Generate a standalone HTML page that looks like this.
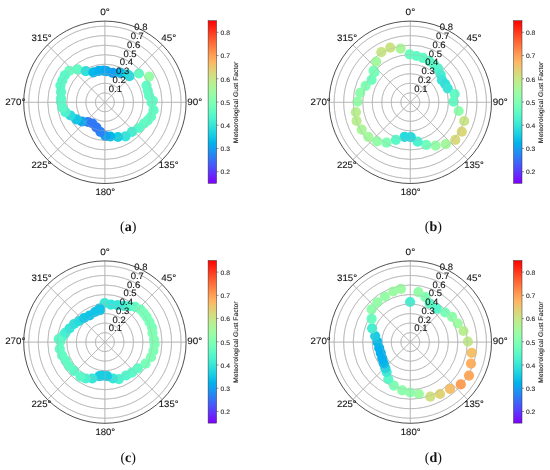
<!DOCTYPE html><html><head><meta charset="utf-8"><style>html,body{margin:0;padding:0;background:#fff;}svg{display:block;filter:blur(0.3px);}text{text-rendering:geometricPrecision;}</style></head><body><svg width="550" height="470" viewBox="0 0 550 470"><defs><linearGradient id="rb" x1="0" y1="0" x2="0" y2="1"><stop offset="0.000" stop-color="#ff0000"/><stop offset="0.025" stop-color="#ff140a"/><stop offset="0.050" stop-color="#ff2814"/><stop offset="0.075" stop-color="#ff3c1e"/><stop offset="0.100" stop-color="#ff4f28"/><stop offset="0.125" stop-color="#ff6232"/><stop offset="0.150" stop-color="#ff743c"/><stop offset="0.175" stop-color="#ff8545"/><stop offset="0.200" stop-color="#ff964f"/><stop offset="0.225" stop-color="#ffa658"/><stop offset="0.250" stop-color="#ffb462"/><stop offset="0.275" stop-color="#f2c26b"/><stop offset="0.300" stop-color="#e5ce74"/><stop offset="0.325" stop-color="#d9d97d"/><stop offset="0.350" stop-color="#cce385"/><stop offset="0.375" stop-color="#bfec8e"/><stop offset="0.400" stop-color="#b2f396"/><stop offset="0.425" stop-color="#a6f89e"/><stop offset="0.450" stop-color="#99fca6"/><stop offset="0.475" stop-color="#8cfead"/><stop offset="0.500" stop-color="#80ffb4"/><stop offset="0.525" stop-color="#73febb"/><stop offset="0.550" stop-color="#66fcc2"/><stop offset="0.575" stop-color="#59f8c8"/><stop offset="0.600" stop-color="#4df3ce"/><stop offset="0.625" stop-color="#40ecd4"/><stop offset="0.650" stop-color="#33e3d9"/><stop offset="0.675" stop-color="#26d9de"/><stop offset="0.700" stop-color="#1acee3"/><stop offset="0.725" stop-color="#0dc2e8"/><stop offset="0.750" stop-color="#00b4ec"/><stop offset="0.775" stop-color="#0da6ef"/><stop offset="0.800" stop-color="#1a96f3"/><stop offset="0.825" stop-color="#2685f5"/><stop offset="0.850" stop-color="#3374f8"/><stop offset="0.875" stop-color="#4062fa"/><stop offset="0.900" stop-color="#4d4ffc"/><stop offset="0.925" stop-color="#593cfd"/><stop offset="0.950" stop-color="#6628fe"/><stop offset="0.975" stop-color="#7314ff"/><stop offset="1.000" stop-color="#8000ff"/></linearGradient><g id="stat"><g fill="none" stroke="#b0b0b0" stroke-width="0.75"><circle cx="104.9" cy="102.3" r="9.52" /><circle cx="104.9" cy="102.3" r="19.04" /><circle cx="104.9" cy="102.3" r="28.56" /><circle cx="104.9" cy="102.3" r="38.08" /><circle cx="104.9" cy="102.3" r="47.60" /><circle cx="104.9" cy="102.3" r="57.12" /><circle cx="104.9" cy="102.3" r="66.64" /><circle cx="104.9" cy="102.3" r="76.16" /><line x1="104.9" y1="102.3" x2="104.90" y2="21.10" /><line x1="104.9" y1="102.3" x2="162.32" y2="44.88" /><line x1="104.9" y1="102.3" x2="186.10" y2="102.30" /><line x1="104.9" y1="102.3" x2="162.32" y2="159.72" /><line x1="104.9" y1="102.3" x2="104.90" y2="183.50" /><line x1="104.9" y1="102.3" x2="47.48" y2="159.72" /><line x1="104.9" y1="102.3" x2="23.70" y2="102.30" /><line x1="104.9" y1="102.3" x2="47.48" y2="44.88" /></g></g><g id="frame"><circle cx="104.9" cy="102.3" r="81.2" fill="none" stroke="#222" stroke-width="0.8"/><g font-family='"Liberation Sans", sans-serif' font-size="9.4" fill="#111" stroke="#111" stroke-width="0.1" text-anchor="middle"><text x="105.0" y="14.8" textLength="9.6" lengthAdjust="spacingAndGlyphs">0°</text><text x="168.7" y="41.1" textLength="15.0" lengthAdjust="spacingAndGlyphs">45°</text><text x="194.75" y="104.7" textLength="14.9" lengthAdjust="spacingAndGlyphs">90°</text><text x="168.65" y="167.7" textLength="19.7" lengthAdjust="spacingAndGlyphs">135°</text><text x="105.3" y="194.8" textLength="19.8" lengthAdjust="spacingAndGlyphs">180°</text><text x="41.4" y="167.7" textLength="19.8" lengthAdjust="spacingAndGlyphs">225°</text><text x="15.3" y="104.7" textLength="20.2" lengthAdjust="spacingAndGlyphs">270°</text><text x="41.65" y="40.9" textLength="20.1" lengthAdjust="spacingAndGlyphs">315°</text></g><g font-family='"Liberation Sans", sans-serif' font-size="9.2" fill="#111" stroke="#111" stroke-width="0.1"><text x="108.84" y="91.70" textLength="13.2" lengthAdjust="spacingAndGlyphs">0.1</text><text x="112.49" y="82.91" textLength="13.2" lengthAdjust="spacingAndGlyphs">0.2</text><text x="116.13" y="74.11" textLength="13.2" lengthAdjust="spacingAndGlyphs">0.3</text><text x="119.77" y="65.32" textLength="13.2" lengthAdjust="spacingAndGlyphs">0.4</text><text x="123.42" y="56.52" textLength="13.2" lengthAdjust="spacingAndGlyphs">0.5</text><text x="127.06" y="47.73" textLength="13.2" lengthAdjust="spacingAndGlyphs">0.6</text><text x="130.70" y="38.93" textLength="13.2" lengthAdjust="spacingAndGlyphs">0.7</text><text x="134.35" y="30.14" textLength="13.2" lengthAdjust="spacingAndGlyphs">0.8</text></g><rect x="208.1" y="20.7" width="8.50" height="162.60" fill="url(#rb)" stroke="#333" stroke-width="0.5"/><g font-family='"Liberation Sans", sans-serif' font-size="6.5" fill="#222" stroke="#222" stroke-width="0.08"><line x1="216.6" y1="171.69" x2="218.6" y2="171.69" stroke="#333" stroke-width="0.5"/><text x="220.5" y="174.49" textLength="9.4" lengthAdjust="spacingAndGlyphs">0.2</text><line x1="216.6" y1="148.46" x2="218.6" y2="148.46" stroke="#333" stroke-width="0.5"/><text x="220.5" y="151.26" textLength="9.4" lengthAdjust="spacingAndGlyphs">0.3</text><line x1="216.6" y1="125.23" x2="218.6" y2="125.23" stroke="#333" stroke-width="0.5"/><text x="220.5" y="128.03" textLength="9.4" lengthAdjust="spacingAndGlyphs">0.4</text><line x1="216.6" y1="102.00" x2="218.6" y2="102.00" stroke="#333" stroke-width="0.5"/><text x="220.5" y="104.80" textLength="9.4" lengthAdjust="spacingAndGlyphs">0.5</text><line x1="216.6" y1="78.77" x2="218.6" y2="78.77" stroke="#333" stroke-width="0.5"/><text x="220.5" y="81.57" textLength="9.4" lengthAdjust="spacingAndGlyphs">0.6</text><line x1="216.6" y1="55.54" x2="218.6" y2="55.54" stroke="#333" stroke-width="0.5"/><text x="220.5" y="58.34" textLength="9.4" lengthAdjust="spacingAndGlyphs">0.7</text><line x1="216.6" y1="32.31" x2="218.6" y2="32.31" stroke="#333" stroke-width="0.5"/><text x="220.5" y="35.11" textLength="9.4" lengthAdjust="spacingAndGlyphs">0.8</text></g><text transform="translate(237.8 102.4) rotate(-90)" font-family='"Liberation Sans", sans-serif' font-size="6.6" fill="#222" stroke="#222" stroke-width="0.1" text-anchor="middle" textLength="81.6" lengthAdjust="spacingAndGlyphs">Meteorological Gust Factor</text></g></defs><rect width="550" height="470" fill="#fff"/><g transform="translate(0.0 0.0)"><use href="#stat"/><g><circle cx="69.3" cy="70.9" r="5.1" fill="#6afdc0"/><circle cx="77.5" cy="69.3" r="5.1" fill="#62fbc4"/><circle cx="85.8" cy="71.2" r="5.1" fill="#2fe1db"/><circle cx="93.5" cy="72.3" r="5.1" fill="#04b8ea"/><circle cx="98.8" cy="70.8" r="5.1" fill="#04b0ed"/><circle cx="103.5" cy="70.7" r="5.1" fill="#04b0ed"/><circle cx="106.5" cy="71.2" r="5.1" fill="#0ba8ef"/><circle cx="112.8" cy="72.9" r="5.1" fill="#129ff1"/><circle cx="120.5" cy="72.8" r="5.1" fill="#04b8ea"/><circle cx="127.5" cy="74.5" r="5.1" fill="#21d5e1"/><circle cx="129.4" cy="76.2" r="5.1" fill="#28dbde"/><circle cx="138.9" cy="73.5" r="5.1" fill="#62fbc4"/><circle cx="149.1" cy="76.6" r="5.1" fill="#95fda8"/><circle cx="146.5" cy="85.5" r="5.1" fill="#62fbc4"/><circle cx="147.8" cy="90.6" r="5.1" fill="#62fbc4"/><circle cx="149.1" cy="95.7" r="5.1" fill="#62fbc4"/><circle cx="152.9" cy="100.8" r="5.1" fill="#62fbc4"/><circle cx="151.6" cy="102.5" r="5.1" fill="#62fbc4"/><circle cx="153.5" cy="110.2" r="5.1" fill="#62fbc4"/><circle cx="151.0" cy="116.5" r="5.1" fill="#62fbc4"/><circle cx="147.8" cy="120.4" r="5.1" fill="#62fbc4"/><circle cx="144.0" cy="123.5" r="5.1" fill="#62fbc4"/><circle cx="138.9" cy="128.0" r="5.1" fill="#5bf9c7"/><circle cx="131.9" cy="131.8" r="5.1" fill="#45efd2"/><circle cx="125.5" cy="136.3" r="5.1" fill="#37e6d8"/><circle cx="117.9" cy="137.0" r="5.1" fill="#19cee3"/><circle cx="110.3" cy="136.5" r="5.1" fill="#04b8ea"/><circle cx="105.5" cy="136.0" r="5.1" fill="#129ff1"/><circle cx="100.5" cy="132.0" r="5.1" fill="#2883f6"/><circle cx="96.5" cy="127.5" r="5.1" fill="#2f79f7"/><circle cx="92.5" cy="123.5" r="5.1" fill="#2f79f7"/><circle cx="88.0" cy="122.0" r="5.1" fill="#2f79f7"/><circle cx="82.0" cy="121.5" r="5.1" fill="#0ba8ef"/><circle cx="76.3" cy="119.3" r="5.1" fill="#12c7e6"/><circle cx="70.5" cy="115.5" r="5.1" fill="#28dbde"/><circle cx="65.5" cy="112.1" r="5.1" fill="#4df3ce"/><circle cx="62.3" cy="107.6" r="5.1" fill="#5bf9c7"/><circle cx="61.0" cy="101.9" r="5.1" fill="#5bf9c7"/><circle cx="61.0" cy="98.3" r="5.1" fill="#5bf9c7"/><circle cx="61.0" cy="91.9" r="5.1" fill="#5bf9c7"/><circle cx="60.4" cy="85.5" r="5.1" fill="#5bf9c7"/><circle cx="62.3" cy="80.5" r="5.1" fill="#5bf9c7"/><circle cx="64.8" cy="75.4" r="5.1" fill="#5bf9c7"/></g><use href="#stat" opacity="0.5"/><use href="#frame"/></g><g transform="translate(305.4 0.0)"><use href="#stat"/><g><circle cx="75.9" cy="52.2" r="5.1" fill="#c8e688"/><circle cx="84.8" cy="47.7" r="5.1" fill="#cce385"/><circle cx="95.2" cy="48.6" r="5.1" fill="#abf69a"/><circle cx="104.3" cy="54.4" r="5.1" fill="#6afdc0"/><circle cx="111.1" cy="56.0" r="5.1" fill="#62fbc4"/><circle cx="117.5" cy="57.9" r="5.1" fill="#62fbc4"/><circle cx="123.9" cy="61.1" r="5.1" fill="#5bf9c7"/><circle cx="129.0" cy="64.9" r="5.1" fill="#5bf9c7"/><circle cx="132.8" cy="68.7" r="5.1" fill="#54f6cb"/><circle cx="135.3" cy="74.5" r="5.1" fill="#45efd2"/><circle cx="136.6" cy="80.2" r="5.1" fill="#37e6d8"/><circle cx="139.8" cy="84.0" r="5.1" fill="#2fe1db"/><circle cx="142.3" cy="88.3" r="5.1" fill="#37e6d8"/><circle cx="149.3" cy="94.0" r="5.1" fill="#62fbc4"/><circle cx="148.1" cy="101.6" r="5.1" fill="#62fbc4"/><circle cx="153.3" cy="111.0" r="5.1" fill="#8efeac"/><circle cx="158.8" cy="121.0" r="5.1" fill="#c8e688"/><circle cx="156.4" cy="131.7" r="5.1" fill="#dbd87b"/><circle cx="149.9" cy="139.8" r="5.1" fill="#d7db7e"/><circle cx="140.4" cy="144.2" r="5.1" fill="#a4f99f"/><circle cx="130.2" cy="145.6" r="5.1" fill="#95fda8"/><circle cx="120.8" cy="144.9" r="5.1" fill="#71febc"/><circle cx="112.2" cy="141.6" r="5.1" fill="#4df3ce"/><circle cx="105.4" cy="137.2" r="5.1" fill="#28dbde"/><circle cx="99.2" cy="136.9" r="5.1" fill="#28dbde"/><circle cx="90.5" cy="139.8" r="5.1" fill="#5bf9c7"/><circle cx="81.1" cy="142.7" r="5.1" fill="#80ffb4"/><circle cx="71.6" cy="141.3" r="5.1" fill="#95fda8"/><circle cx="62.9" cy="136.9" r="5.1" fill="#a4f99f"/><circle cx="56.3" cy="129.6" r="5.1" fill="#abf69a"/><circle cx="51.2" cy="120.9" r="5.1" fill="#baef91"/><circle cx="50.5" cy="112.2" r="5.1" fill="#baef91"/><circle cx="52.1" cy="101.6" r="5.1" fill="#95fda8"/><circle cx="54.8" cy="92.9" r="5.1" fill="#8efeac"/><circle cx="60.2" cy="85.8" r="5.1" fill="#80ffb4"/><circle cx="66.2" cy="79.8" r="5.1" fill="#71febc"/><circle cx="69.0" cy="72.2" r="5.1" fill="#71febc"/><circle cx="68.2" cy="70.6" r="5.1" fill="#78ffb8"/><circle cx="70.8" cy="61.7" r="5.1" fill="#a4f99f"/></g><use href="#stat" opacity="0.5"/><use href="#frame"/></g><g transform="translate(0.0 239.8)"><use href="#stat"/><g><circle cx="104.6" cy="63.2" r="5.1" fill="#3eead5"/><circle cx="110.9" cy="64.8" r="5.1" fill="#37e6d8"/><circle cx="117.5" cy="65.4" r="5.1" fill="#37e6d8"/><circle cx="124.0" cy="66.0" r="5.1" fill="#3eead5"/><circle cx="129.5" cy="66.4" r="5.1" fill="#4df3ce"/><circle cx="135.0" cy="67.0" r="5.1" fill="#62fbc4"/><circle cx="140.5" cy="69.7" r="5.1" fill="#71febc"/><circle cx="143.7" cy="73.2" r="5.1" fill="#78ffb8"/><circle cx="146.5" cy="77.0" r="5.1" fill="#78ffb8"/><circle cx="149.5" cy="82.3" r="5.1" fill="#78ffb8"/><circle cx="152.0" cy="87.7" r="5.1" fill="#78ffb8"/><circle cx="152.5" cy="93.2" r="5.1" fill="#80ffb4"/><circle cx="154.0" cy="99.7" r="5.1" fill="#80ffb4"/><circle cx="154.6" cy="104.4" r="5.1" fill="#80ffb4"/><circle cx="153.4" cy="110.9" r="5.1" fill="#80ffb4"/><circle cx="151.0" cy="117.4" r="5.1" fill="#80ffb4"/><circle cx="145.5" cy="123.9" r="5.1" fill="#78ffb8"/><circle cx="137.8" cy="128.6" r="5.1" fill="#62fbc4"/><circle cx="131.9" cy="132.8" r="5.1" fill="#5bf9c7"/><circle cx="126.0" cy="135.7" r="5.1" fill="#54f6cb"/><circle cx="118.9" cy="139.3" r="5.1" fill="#4df3ce"/><circle cx="113.0" cy="138.7" r="5.1" fill="#37e6d8"/><circle cx="107.1" cy="136.3" r="5.1" fill="#19cee3"/><circle cx="102.4" cy="135.7" r="5.1" fill="#19cee3"/><circle cx="99.4" cy="136.3" r="5.1" fill="#19cee3"/><circle cx="92.3" cy="138.7" r="5.1" fill="#37e6d8"/><circle cx="85.8" cy="138.7" r="5.1" fill="#4df3ce"/><circle cx="80.5" cy="136.9" r="5.1" fill="#5bf9c7"/><circle cx="74.0" cy="131.0" r="5.1" fill="#5bf9c7"/><circle cx="69.2" cy="126.3" r="5.1" fill="#62fbc4"/><circle cx="65.7" cy="120.9" r="5.1" fill="#62fbc4"/><circle cx="62.1" cy="115.6" r="5.1" fill="#62fbc4"/><circle cx="59.8" cy="109.1" r="5.1" fill="#62fbc4"/><circle cx="60.4" cy="101.4" r="5.1" fill="#62fbc4"/><circle cx="64.5" cy="94.3" r="5.1" fill="#4df3ce"/><circle cx="62.5" cy="96.7" r="5.1" fill="#54f6cb"/><circle cx="58.7" cy="99.3" r="5.1" fill="#5bf9c7"/><circle cx="65.5" cy="92.7" r="5.1" fill="#45efd2"/><circle cx="69.5" cy="88.7" r="5.1" fill="#37e6d8"/><circle cx="74.0" cy="84.2" r="5.1" fill="#2fe1db"/><circle cx="79.0" cy="81.2" r="5.1" fill="#28dbde"/><circle cx="84.0" cy="78.2" r="5.1" fill="#12c7e6"/><circle cx="89.5" cy="75.7" r="5.1" fill="#0fc4e7"/><circle cx="95.0" cy="72.2" r="5.1" fill="#0fc4e7"/><circle cx="99.5" cy="68.7" r="5.1" fill="#0fc4e7"/><circle cx="100.0" cy="70.3" r="5.1" fill="#0fc4e7"/></g><use href="#stat" opacity="0.5"/><use href="#frame"/></g><g transform="translate(305.4 239.8)"><use href="#stat"/><g><circle cx="66.2" cy="69.5" r="5.1" fill="#8efeac"/><circle cx="72.0" cy="62.5" r="5.1" fill="#95fda8"/><circle cx="79.6" cy="56.7" r="5.1" fill="#95fda8"/><circle cx="87.9" cy="51.7" r="5.1" fill="#9dfba3"/><circle cx="95.5" cy="49.1" r="5.1" fill="#9dfba3"/><circle cx="104.7" cy="62.2" r="5.1" fill="#45efd2"/><circle cx="113.0" cy="52.3" r="5.1" fill="#95fda8"/><circle cx="120.0" cy="57.4" r="5.1" fill="#80ffb4"/><circle cx="124.4" cy="63.7" r="5.1" fill="#5bf9c7"/><circle cx="131.4" cy="68.8" r="5.1" fill="#54f6cb"/><circle cx="139.7" cy="72.7" r="5.1" fill="#78ffb8"/><circle cx="146.7" cy="77.1" r="5.1" fill="#8efeac"/><circle cx="152.4" cy="83.7" r="5.1" fill="#9dfba3"/><circle cx="158.1" cy="91.2" r="5.1" fill="#baef91"/><circle cx="162.5" cy="101.8" r="5.1" fill="#c1ea8c"/><circle cx="166.3" cy="113.0" r="5.1" fill="#f4c069"/><circle cx="165.6" cy="123.8" r="5.1" fill="#ffb05f"/><circle cx="163.6" cy="135.8" r="5.1" fill="#ffa85a"/><circle cx="155.4" cy="144.6" r="5.1" fill="#ff9f54"/><circle cx="144.6" cy="149.0" r="5.1" fill="#f4c069"/><circle cx="134.6" cy="154.2" r="5.1" fill="#ded579"/><circle cx="124.9" cy="156.9" r="5.1" fill="#d0e183"/><circle cx="113.5" cy="154.2" r="5.1" fill="#9dfba3"/><circle cx="104.8" cy="152.7" r="5.1" fill="#8efeac"/><circle cx="96.8" cy="150.6" r="5.1" fill="#8efeac"/><circle cx="88.5" cy="145.8" r="5.1" fill="#80ffb4"/><circle cx="82.9" cy="139.4" r="5.1" fill="#5bf9c7"/><circle cx="81.2" cy="132.2" r="5.1" fill="#3eead5"/><circle cx="79.9" cy="128.2" r="5.1" fill="#21d5e1"/><circle cx="78.4" cy="123.7" r="5.1" fill="#04b8ea"/><circle cx="76.9" cy="118.5" r="5.1" fill="#04b0ed"/><circle cx="75.4" cy="113.2" r="5.1" fill="#04b0ed"/><circle cx="73.8" cy="108.2" r="5.1" fill="#04b0ed"/><circle cx="72.1" cy="102.2" r="5.1" fill="#04b8ea"/><circle cx="69.8" cy="96.2" r="5.1" fill="#19cee3"/><circle cx="66.7" cy="88.5" r="5.1" fill="#45efd2"/><circle cx="66.2" cy="79.0" r="5.1" fill="#6afdc0"/></g><use href="#stat" opacity="0.5"/><use href="#frame"/></g><text x="128.2" y="231.0" font-family='"Liberation Serif", serif' font-size="14" fill="#111" text-anchor="middle">(<tspan font-weight="bold">a</tspan>)</text><text x="433.3" y="231.0" font-family='"Liberation Serif", serif' font-size="14" fill="#111" text-anchor="middle">(<tspan font-weight="bold">b</tspan>)</text><text x="128.2" y="462.0" font-family='"Liberation Serif", serif' font-size="14" fill="#111" text-anchor="middle">(<tspan font-weight="bold">c</tspan>)</text><text x="433.3" y="462.0" font-family='"Liberation Serif", serif' font-size="14" fill="#111" text-anchor="middle">(<tspan font-weight="bold">d</tspan>)</text></svg></body></html>
